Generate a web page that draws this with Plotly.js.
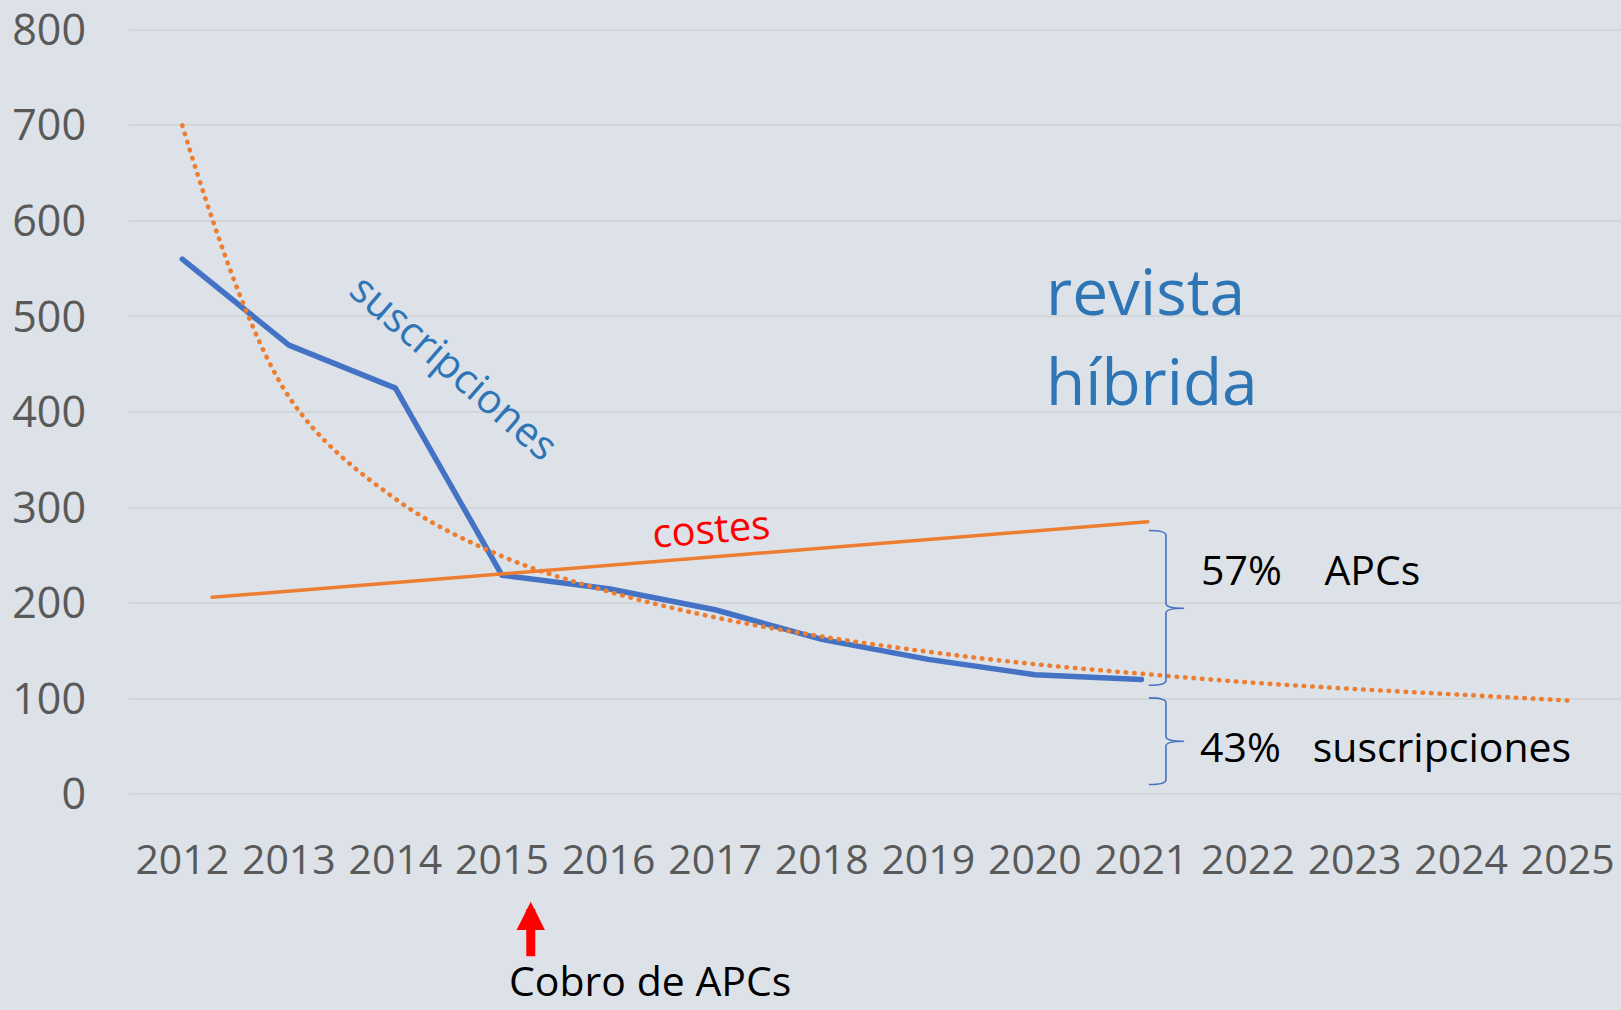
<!DOCTYPE html>
<html>
<head>
<meta charset="utf-8">
<script src="https://cdn.plot.ly/plotly-3.0.1.min.js"></script>
<style>
  html, body { margin: 0; padding: 0; background: #dce2e8; }
  #plot { width: 1621px; height: 1010px; }
  #plot path.js-line { stroke-linecap: round; stroke-linejoin: round; }
</style>
</head>
<body>
<div id="plot"></div>
<script>
// years on the x axis
const years = [2012, 2013, 2014, 2015, 2016, 2017, 2018, 2019, 2020, 2021, 2022, 2023, 2024, 2025];
const yearLabels = ["2012", "2013", "2014", "2015", "2016", "2017", "2018", "2019", "2020", "2021", "2022", "2023", "2024", "2025"];
const yTicks = [0, 100, 200, 300, 400, 500, 600, 700, 800];

// suscripciones (blue line)
const subsYears = [2012, 2013, 2014, 2015, 2016, 2017, 2018, 2019, 2020, 2021];
const subsValues = [560, 470, 425, 229, 215, 193, 162, 141, 125, 120];

// costes (straight orange line)
const costYears = [2012.28, 2021.06];
const costValues = [206, 285];

// trend (dotted orange curve)
const trendValues = [700, 416, 309, 249, 212, 185, 165, 149, 136, 126, 117, 110, 104, 98];

// braces: 57% APCs and 43% suscripciones
const braceTops = [276, 100.7];
const braceTips = [194.6, 55.3];
const braceBottoms = [114, 10];

const blue = "#4472C4";
const orange = "#ED7D31";
const textBlue = "#2E75B6";

const traces = [
  {
    x: subsYears, y: subsValues, name: "suscripciones",
    type: "scatter", mode: "lines",
    line: {color: blue, width: 5.5}
  },
  {
    x: costYears, y: costValues, name: "costes",
    type: "scatter", mode: "lines",
    line: {color: orange, width: 3.5}
  },
  {
    x: years, y: trendValues, name: "tendencia",
    type: "scatter", mode: "lines",
    line: {color: orange, width: 4.6, dash: "0.5px,8px", shape: "spline", smoothing: 1}
  }
];

// curly brace path in data coordinates
function bracePath(top, tip, bottom) {
  const x0 = 2021.07, x1 = 2021.23, x2 = 2021.40, d = 5;
  return "M" + x0 + "," + top +
    " Q" + x1 + "," + top + " " + x1 + "," + (top - d) +
    " L" + x1 + "," + (tip + d) +
    " Q" + x1 + "," + tip + " " + x2 + "," + tip +
    " Q" + x1 + "," + tip + " " + x1 + "," + (tip - d) +
    " L" + x1 + "," + (bottom + d) +
    " Q" + x1 + "," + bottom + " " + x0 + "," + bottom;
}

const shapes = braceTops.map((t, i) => ({
  type: "path", xref: "x", yref: "y",
  path: bracePath(t, braceTips[i], braceBottoms[i]),
  line: {color: blue, width: 1.6}
}));

const nb = "\u00a0";
const annotations = [
  {x: 2014.56, y: 448, xref: "x", yref: "y", text: "suscripciones", showarrow: false,
   textangle: 41, font: {size: 41, color: textBlue}},
  {x: 2016.96, y: 279, xref: "x", yref: "y", text: "costes", showarrow: false,
   textangle: -4.6, font: {size: 40, color: "#FF0000"}},
  {x: 2020.09, y: 527, xref: "x", yref: "y", text: "revista", showarrow: false,
   xanchor: "left", font: {size: 64, color: textBlue}},
  {x: 2020.09, y: 433, xref: "x", yref: "y", text: "híbrida", showarrow: false,
   xanchor: "left", font: {size: 64, color: textBlue}},
  {x: 2021.54, y: 236, xref: "x", yref: "y", text: "57%" + nb + nb + nb + nb + "APCs", showarrow: false,
   xanchor: "left", font: {size: 41, color: "#000000"}},
  {x: 2021.53, y: 50, xref: "x", yref: "y", text: "43%" + nb + nb + nb + "suscripciones", showarrow: false,
   xanchor: "left", font: {size: 41, color: "#000000"}},
  {x: 2015.27, y: -0.1376, xref: "x", yref: "paper", text: "", showarrow: true,
   ax: 0, ay: 56, arrowhead: 2, arrowsize: 0.63, arrowwidth: 9, arrowcolor: "#FF0000"},
  {x: 2016.39, y: -0.24, xref: "x", yref: "paper", yanchor: "middle", text: "Cobro de APCs", showarrow: false,
   font: {size: 41, color: "#000000"}}
];

const layout = {
  width: 1621, height: 1010,
  margin: {l: 129, r: 0, t: 28, b: 214, pad: 0},
  paper_bgcolor: "#dce2e8",
  plot_bgcolor: "#dce2e8",
  font: {family: "Open Sans, sans-serif", color: "#595959"},
  showlegend: false,
  xaxis: {
    range: [2011.5, 2025.5],
    tickvals: years, ticktext: yearLabels,
    showgrid: false, zeroline: false, showline: false,
    ticks: "", ticklabelstandoff: 36, ticklabeloverflow: "allow",
    tickfont: {size: 41, color: "#595959"}
  },
  yaxis: {
    range: [-2, 802],
    tickvals: yTicks,
    showgrid: true, gridcolor: "#d3d6d9", gridwidth: 2,
    zeroline: false, showline: false,
    ticks: "", ticklabelstandoff: 42, ticklabeloverflow: "allow",
    tickfont: {size: 43, color: "#595959"}
  },
  shapes: shapes,
  annotations: annotations
};

Plotly.newPlot("plot", traces, layout, {displayModeBar: false, staticPlot: true});
</script>
</body>
</html>
